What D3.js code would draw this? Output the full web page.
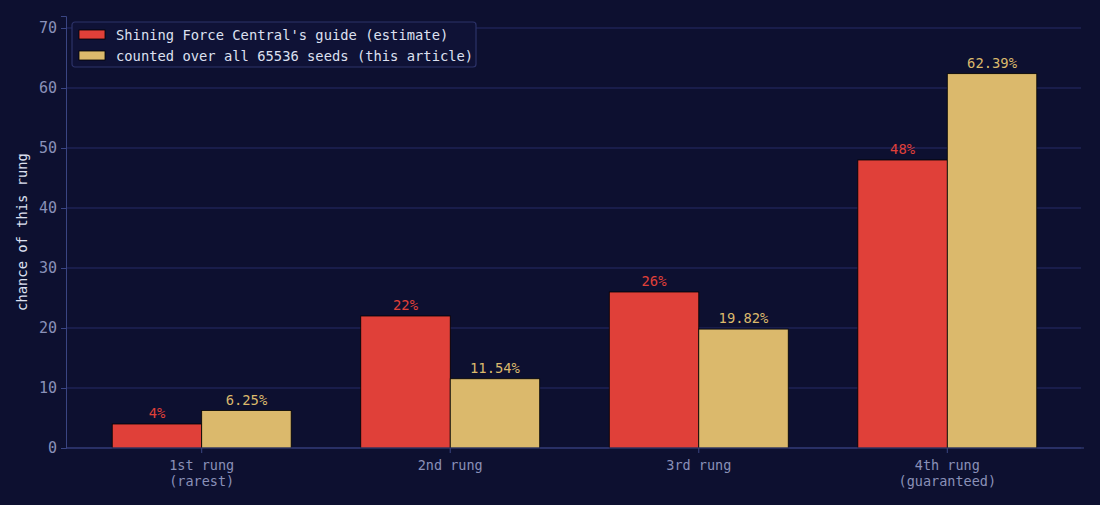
<!DOCTYPE html>
<html>
<head>
<meta charset="utf-8">
<script src="https://cdn.jsdelivr.net/npm/d3@7"></script>
<style>
  body { margin: 0; background: #0d1030; }
  svg { display: block; font-family: "DejaVu Sans Mono", monospace; }
</style>
</head>
<body>
<div id="chart"></div>
<script>
var categories = ["1st rung\n(rarest)", "2nd rung", "3rd rung", "4th rung\n(guaranteed)"];
var guideValues = [4, 22, 26, 48];
var guideLabels = ["4%", "22%", "26%", "48%"];
var countedValues = [6.25, 11.54, 19.82, 62.39];
var countedLabels = ["6.25%", "11.54%", "19.82%", "62.39%"];
var seriesNames = ["Shining Force Central's guide (estimate)", "counted over all 65536 seeds (this article)"];
var yTicks = [0, 10, 20, 30, 40, 50, 60, 70];

var W = 1100, H = 505;
var margin = {top: 16, right: 17, bottom: 57, left: 66};
var width = W - margin.left - margin.right,
    height = H - margin.top - margin.bottom;

var colors = ["#e04039", "#dbb96c"];
var barW = 0.36;

var svg = d3.select("#chart").append("svg").attr("width", W).attr("height", H);
svg.append("rect").attr("width", W).attr("height", H).attr("fill", "#0d1030");

var g = svg.append("g").attr("transform", "translate(" + margin.left + "," + margin.top + ")");

// matplotlib-like linear x with 5% margins
var lo = -barW, hi = categories.length - 1 + barW, pad = (hi - lo) * 0.05;
var x = d3.scaleLinear().domain([lo - pad, hi + pad]).range([0, width]);
var y = d3.scaleLinear().domain([0, 72]).range([height, 0]);

// grid
g.selectAll(".grid").data(yTicks).enter().append("line")
  .attr("x1", 0).attr("x2", width - 2)
  .attr("y1", function(d) { return y(d); }).attr("y2", function(d) { return y(d); })
  .attr("stroke", "#262a66").attr("stroke-width", 1);

var series = [
  {vals: guideValues, labels: guideLabels, off: -barW / 2},
  {vals: countedValues, labels: countedLabels, off: barW / 2}
];

series.forEach(function(s, si) {
  g.selectAll(".bar" + si).data(s.vals).enter().append("rect")
    .attr("x", function(d, i) { return x(i + s.off - barW / 2); })
    .attr("y", function(d) { return y(d); })
    .attr("width", x(barW) - x(0))
    .attr("height", function(d) { return height - y(d); })
    .attr("fill", colors[si])
    .attr("stroke", "#000").attr("stroke-width", 0.8);
  g.selectAll(".lab" + si).data(s.vals).enter().append("text")
    .attr("x", function(d, i) { return x(i + s.off); })
    .attr("y", function(d) { return y(d) - 6; })
    .attr("text-anchor", "middle")
    .attr("font-size", 13.8)
    .attr("fill", colors[si])
    .text(function(d, i) { return s.labels[i]; });
});

// y axis
var yAxis = g.append("g").call(d3.axisLeft(y).tickValues(yTicks).tickSize(5).tickPadding(4));
yAxis.select(".domain").attr("stroke", "#3a4582");
yAxis.selectAll(".tick line").attr("stroke", "#3a4582");
yAxis.selectAll(".tick text").attr("fill", "#8a90b8").attr("font-size", 15)
  .attr("font-family", "DejaVu Sans Mono, monospace");

// x axis
var xAxis = g.append("g").attr("transform", "translate(0," + height + ")");
xAxis.append("line").attr("x1", 0).attr("x2", width + 1).attr("stroke", "#3a4582").attr("stroke-width", 1.2);
categories.forEach(function(c, i) {
  xAxis.append("line").attr("x1", x(i)).attr("x2", x(i)).attr("y1", 0).attr("y2", 5).attr("stroke", "#3a4582");
  var t = xAxis.append("text").attr("text-anchor", "middle").attr("fill", "#8a90b8").attr("font-size", 13.5);
  c.split("\n").forEach(function(line, li) {
    t.append("tspan").attr("x", x(i)).attr("y", 22 + li * 16).text(line);
  });
});

// y label
svg.append("text")
  .attr("transform", "translate(27," + (margin.top + height / 2) + ") rotate(-90)")
  .attr("text-anchor", "middle").attr("fill", "#dde0f0").attr("font-size", 13.8)
  .text("chance of this rung");

// legend
var lg = svg.append("g").attr("transform", "translate(72,22)");
lg.append("rect").attr("width", 404).attr("height", 45).attr("rx", 3)
  .attr("fill", "#0f1236").attr("stroke", "#2c3268").attr("stroke-width", 1.2);
seriesNames.forEach(function(n, i) {
  lg.append("rect").attr("x", 7).attr("y", 8 + i * 21).attr("width", 26).attr("height", 9)
    .attr("fill", colors[i]).attr("stroke", "#000").attr("stroke-width", 0.8);
  lg.append("text").attr("x", 44).attr("y", 18 + i * 21).attr("fill", "#dde0f0")
    .attr("font-size", 13.8).text(n);
});
</script>
</body>
</html>
